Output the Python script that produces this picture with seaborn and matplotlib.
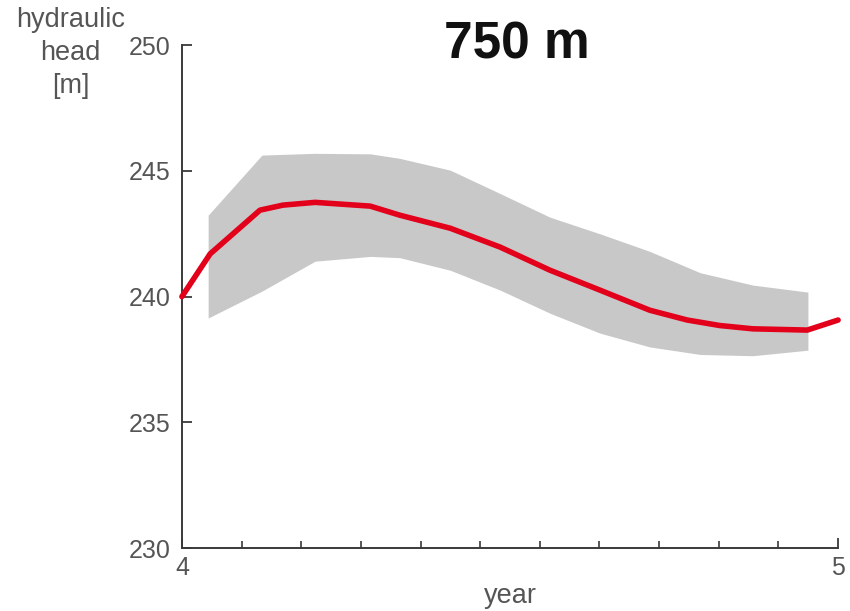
import numpy as np
import matplotlib
matplotlib.use("Agg")
import matplotlib.pyplot as plt
import seaborn as sns
import pandas as pd

# Mean hydraulic head through the year (red curve)
year = [4.0, 4.043, 4.119, 4.154, 4.203, 4.287, 4.332, 4.409, 4.485, 4.561,
        4.637, 4.713, 4.770, 4.820, 4.870, 4.953, 5.0]
head_mean = [240.0, 241.7, 243.44, 243.64, 243.75, 243.6, 243.24, 242.72, 241.97, 241.05,
             240.26, 239.46, 239.07, 238.85, 238.72, 238.67, 239.07]

# Spread of the ensemble (grey band)
band_year = [4.040, 4.122, 4.203, 4.287, 4.332, 4.409, 4.485, 4.561, 4.637, 4.713,
             4.790, 4.870, 4.954]
band_upper = [243.24, 245.63, 245.7, 245.68, 245.5, 245.03, 244.1, 243.16, 242.5, 241.8,
              240.95, 240.46, 240.18]
band_lower = [239.15, 240.22, 241.41, 241.6, 241.55, 241.05, 240.26, 239.34, 238.55, 238.0,
              237.7, 237.65, 237.87]

y_ticks = [230, 235, 240, 245, 250]
x_ticks = [4, 5]
x_minor = list(np.linspace(4, 5, 12))

sns.set_style("ticks")
plt.rcParams["font.family"] = ["Liberation Sans", "DejaVu Sans"]

fig = plt.figure(figsize=(8.5, 6.11), dpi=100)
ax = fig.add_axes([0.214, 0.103, 0.772, 0.823])

ax.fill_between(band_year, band_lower, band_upper, color="#c8c8c8", linewidth=0, zorder=1)
df = pd.DataFrame({"year": year, "head": head_mean})
sns.lineplot(data=df, x="year", y="head", ax=ax, color="#e3001b", linewidth=4.0,
             zorder=3, clip_on=False)

ax.set_xlim(4, 5)
ax.set_ylim(230, 250)
ax.set_yticks(y_ticks)
ax.set_xticks(x_ticks)
ax.set_xticks(x_minor, minor=True)
ax.set_xticklabels([str(v) for v in x_ticks])
ax.set_yticklabels([str(v) for v in y_ticks])

for side in ("top", "right"):
    ax.spines[side].set_visible(False)
for side in ("left", "bottom"):
    ax.spines[side].set_color("#3a3a3a")
    ax.spines[side].set_linewidth(1.4)

ax.tick_params(axis="both", which="major", direction="in", length=7, width=1.3,
               color="#3a3a3a", labelsize=18, labelcolor="#555555", pad=6)
ax.tick_params(axis="x", which="minor", direction="in", length=5, width=1.2, color="#3a3a3a")
ax.tick_params(axis="y", which="major", pad=8)

ax.set_xlabel("year", fontsize=19.5, color="#555555", labelpad=2)
ax.set_ylabel("")

ax.text(0.51, 1.0, "750 m", transform=ax.transAxes, ha="center", va="center",
        fontsize=37, fontweight="bold", color="#111111")
fig.text(0.083, 0.913, "hydraulic\nhead\n[m]", ha="center", va="center",
         fontsize=19.5, color="#555555", linespacing=1.35)

fig.savefig("out.png", dpi=100)
